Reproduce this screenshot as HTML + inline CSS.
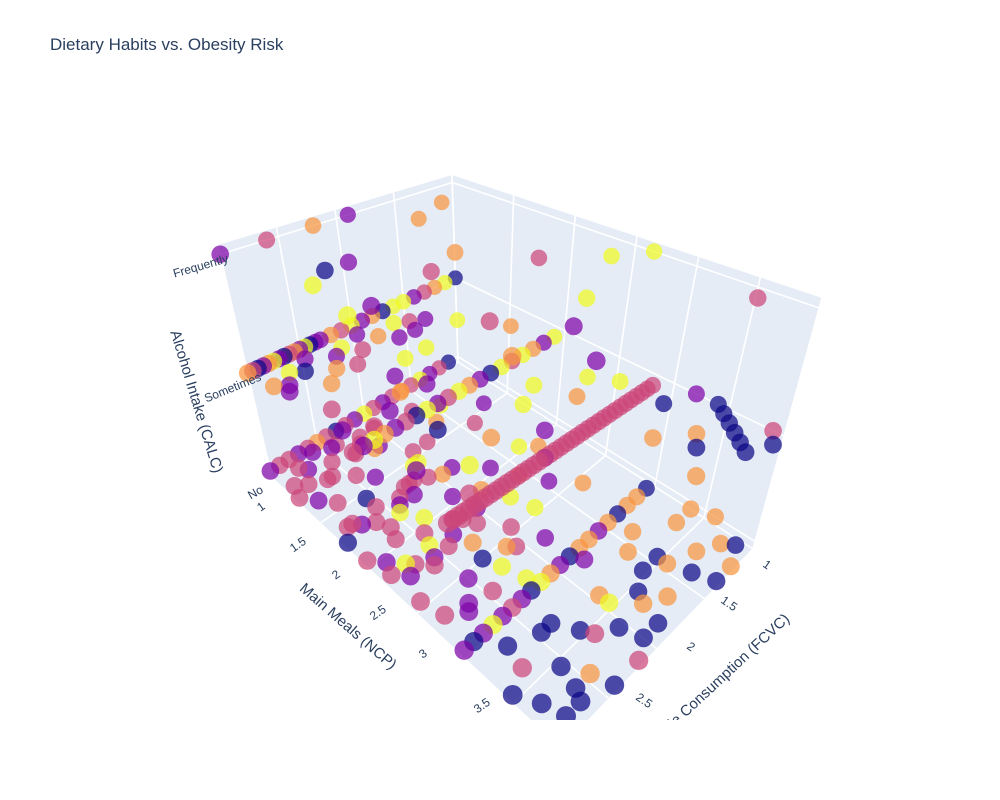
<!DOCTYPE html>
<html><head><meta charset="utf-8"><style>
html,body{margin:0;padding:0;background:#fff;}
svg{display:block;font-family:"Liberation Sans",Arial,sans-serif;}
</style></head><body>
<svg id="chart" width="1000" height="800" viewBox="0 0 1000 800">
<defs><clipPath id="sceneClip"><rect x="0" y="80" width="1000" height="640"/></clipPath></defs>
<text x="50" y="50" font-size="17" fill="#2a3f5f">Dietary Habits vs. Obesity Risk</text>
<g id="scene" clip-path="url(#sceneClip)"></g>
<g id="labels" fill="#2a3f5f" font-size="12">
<text transform="translate(229,262) rotate(-16)" text-anchor="end">Frequently</text>
<text transform="translate(262,380) rotate(-22)" text-anchor="end">Sometimes</text>
<text transform="translate(264,492) rotate(-30)" text-anchor="end">No</text>
<text transform="translate(266,508) rotate(-35)" text-anchor="end">1</text>
<text transform="translate(307,543) rotate(-35)" text-anchor="end">1.5</text>
<text transform="translate(341,576) rotate(-35)" text-anchor="end">2</text>
<text transform="translate(387,611) rotate(-35)" text-anchor="end">2.5</text>
<text transform="translate(428,655) rotate(-35)" text-anchor="end">3</text>
<text transform="translate(491,704) rotate(-35)" text-anchor="end">3.5</text>
<text transform="translate(762,566) rotate(35)">1</text>
<text transform="translate(720,602) rotate(35)">1.5</text>
<text transform="translate(686,648) rotate(35)">2</text>
<text transform="translate(635,699) rotate(35)">2.5</text>
</g>
<text transform="translate(192,403) rotate(73)" text-anchor="middle" font-size="15" fill="#2a3f5f">Alcohol Intake (CALC)</text>
<text transform="translate(345,630) rotate(41)" text-anchor="middle" font-size="15" fill="#2a3f5f">Main Meals (NCP)</text>
<g clip-path="url(#sceneClip)"><text transform="translate(712,693) rotate(-43)" text-anchor="middle" font-size="15" fill="#2a3f5f">Vegetable Consumption (FCVC)</text></g>
</svg>
<script>
// ---- data (CALC groups) ----
const fcvcFreq=[3,2.6,2.2,1.9,2.8,2.4,1.6,1.3,2.9,2.7,2.1,1.8,1.5,2.3,1.2,2.0,2.5,1.7,1.1,2.2,1.0,2.6];
const ncpFreq=[1,1,1,1,1.6,1.5,1.3,1.2,2,2,1.9,1.8,2.2,2.6,2.5,3,3,2.8,3.6,3.4,2.65,1.5];
const riskFreq=[1,2,3,1,4,1,3,3,4,1,2,3,2,2,4,1,3,4,2,1,4,0];

const fcvcSome=[3,2.95,2.9,2.85,2.8,2.75,2.7,2.65,2.6,2.55,2.5,2.45,2.4,2.3,2.2,2.1,2.0,1.9,1.8,1.7,1.6,1.5,1.4,1.3,1.2,1.1,1.0,2.35,
 2.9,2.6,2.3,2.0,1.7,1.4,2.8,2.2,1.8,1.2,
 3,2.9,2.8,2.7,2.6,2.5,2.4,2.3,2.2,2.1,2.0,1.9,1.8,1.7,1.6,1.5,1.4,1.3,1.2,1.1,
 2.8,2.5,2.2,1.9,1.6,1.3,2.7,2.1,1.5,2.4,1.8,1.2,
 1.1,1.15,1.2,1.25,1.3,1.35,1.4,1.45,1.5,1.55,1.6,1.65,1.7,1.75,1.8,1.85,1.9,1.95,2.0,2.05,2.1,2.15,2.2,2.25,2.3,2.35,2.4,2.45,2.5,2.55,2.6,2.65,2.7,2.75,2.8,2.85,2.9,2.95,3.0,
 1.0,1.05,1.1,1.15,1.2,1.0,1.1,1.3,1.25,1.4,1.5,1.6,1.0,1.2,
 2.95,2.85,2.75,2.65,2.55,2.45,2.35,2.25,2.15,2.05,1.95,1.85,1.75,1.65,1.55,2.9,2.7,2.5,2.3,2.1];
const ncpSome=[1,1,1,1,1,1,1,1,1,1,1,1,1,1,1,1,1,1,1,1,1,1,1,1,1,1,1,1,
 1.3,1.4,1.35,1.5,1.3,1.4,1.6,1.6,1.5,1.7,
 2,2,2,2,2,2,2,2,2,2,2,2,2,2,2,2,2,2,2,2,
 2.4,2.6,2.5,2.7,2.3,2.5,2.8,2.9,2.6,2.2,2.4,2.7,
 2.9,2.9,2.9,2.9,2.9,2.9,2.9,2.9,2.9,2.9,2.9,2.9,2.9,2.9,2.9,2.9,2.9,2.9,2.9,2.9,2.9,2.9,2.9,2.9,2.9,2.9,2.9,2.9,2.9,2.9,2.9,2.9,2.9,2.9,2.9,2.9,2.9,2.9,2.9,
 3.4,3.5,3.6,3.7,3.8,3.9,4.0,3.5,3.9,3.6,3.3,3.8,3.2,3.1,
 1.2,1.25,1.15,1.2,1.1,1.3,1.2,1.15,1.25,1.1,1.2,1.3,1.15,1.2,1.25,1.8,1.9,1.85,1.75,1.8];
const riskSome=[3,2,0,1,3,4,1,0,2,3,1,4,0,1,3,2,4,1,3,0,4,4,1,2,3,4,0,1,
 1,3,2,4,1,4,2,1,4,3,
 2,1,4,3,1,2,0,4,1,2,4,3,1,0,4,2,4,3,1,4,
 1,4,3,1,4,4,2,1,3,0,4,4,
 2,2,2,2,2,2,2,2,2,2,2,2,2,2,2,2,2,2,2,2,2,2,2,2,2,2,2,2,2,2,2,2,2,2,2,2,2,2,2,
 0,0,0,0,0,2,0,3,0,0,3,3,1,0,
 3,1,4,0,1,3,1,4,2,1,3,1,4,2,1,1,2,1,3,1];

const fcvcNo=[3,2.9,2.8,2.7,2.6,2.5,2.4,2.3,2.2,2.1,2.0,1.9,1.8,1.7,1.6,1.5,1.4,1.3,1.2,1.1,
 3,2.9,2.8,2.7,2.6,2.5,2.4,2.3,2.2,2.1,2.0,1.9,3,2.85,2.65,2.45,2.25,2.05,1.85,1.65,1.45,1.25,1.5,1.7,
 3,2.9,2.8,2.7,2.6,2.5,2.4,2.3,2.2,2.1,2.0,1.9,1.8,1.7,1.6,1.5,1.4,1.3,2.95,2.55,2.15,1.75,1.35,2.35,
 3,2.9,2.8,2.7,2.6,2.5,2.4,2.3,2.2,2.1,2.0,1.9,1.8,1.7,1.6,1.5,1.4,1.3,1.2,1.1,2.75,2.25,1.85,1.45,
 3,2.9,2.8,2.7,2.6,2.5,2.4,2.3,2.2,2.1,2.0,1.9,1.8,1.7,1.6,1.5,1.4,1.3,1.2,1.1,1.0,2.85,2.65,2.45,2.25,2.05,1.85,1.65,1.45,1.25,1.05,2.5,2.0,1.5,1.15,2.75,
 2.95,2.85,2.75,2.65,2.55,2.45,2.35,2.25,2.15,2.05,2.95,2.85,2.75,2.65,2.55,2.45,2.35,2.25,2.15,2.05,2.9,2.8,2.7,2.6,2.5,2.4,2.3,2.2,2.1,2.0,
 2.9,2.7,2.5,2.3,2.1,1.9,2.8,2.6,2.4,2.2];
const ncpNo=[1,1,1,1,1,1,1,1,1,1,1,1,1,1,1,1,1,1,1,1,
 1.3,1.4,1.5,1.3,1.6,1.4,1.5,1.7,1.3,1.6,1.5,1.8,1.8,1.7,1.9,1.8,1.7,1.6,1.5,1.4,1.6,1.5,1.3,1.2,
 2,2.1,2.2,2.0,2.3,2.1,2.0,2.4,2.2,2.0,2.5,2.1,2.3,2.0,2.2,2.4,2.0,2.1,2.5,2.6,2.6,2.5,2.6,2.55,
 3,3,3,3,3,3,3,3,3,3,3,3,3,3,3,3,3,3,3,3,2.8,2.9,3.1,3.2,
 3.5,3.7,3.4,3.9,3.6,3.8,3.3,3.5,4.0,3.7,3.4,3.9,3.6,3.8,3.3,3.5,4.0,3.7,3.4,3.9,3.6,3.9,3.8,4.0,3.6,3.9,3.7,3.5,3.8,4.0,3.4,3.3,3.5,3.6,3.8,3.2,
 1.2,1.25,1.15,1.3,1.2,1.1,1.25,1.2,1.3,1.15,2.2,2.3,2.25,2.35,2.2,2.3,2.25,2.15,2.3,2.2,1.7,1.75,1.8,1.7,1.85,1.75,1.8,1.7,1.75,1.8,
 2.7,2.75,2.8,2.7,2.65,2.75,1.1,1.05,1.1,1.15];
const riskNo=[1,2,2,1,2,3,2,0,2,1,4,2,1,2,3,2,4,1,2,0,
 2,1,2,2,0,2,1,2,3,4,2,1,0,2,2,1,2,4,2,3,2,1,4,2,
 2,1,4,2,1,2,4,3,2,1,2,3,4,1,3,1,4,3,2,1,3,4,3,0,
 1,0,1,4,1,2,1,0,4,3,1,0,3,3,1,3,0,3,3,0,1,4,1,3,
 0,0,2,0,0,3,0,0,2,0,3,0,0,3,3,0,0,3,3,0,3,0,0,0,2,0,3,0,0,3,3,0,4,3,3,0,
 2,2,1,2,2,1,2,2,1,2,2,1,2,2,4,2,1,2,2,1,2,1,2,2,4,2,1,2,2,3,
 2,1,2,4,2,1,2,1,2,2];

const calcLabels=['No','Sometimes','Frequently'];
const riskColors=['#0d0887','#7e03a8','#cc4778','#f89540','#f0f921'];

// ---- projection (scene layout) ----
const C={b00:[458,362],b10:[272,478],b01:[753,549],b11:[561,749],t00:[452,175],t10:[218,245],t01:[822,298],t11:[566,440]};
const wLevel=[0.03,0.45,0.96];
function lerp(a,b,t){return [a[0]+(b[0]-a[0])*t,a[1]+(b[1]-a[1])*t];}
function proj(u,v,w){
  const b=lerp(lerp(C.b00,C.b10,u),lerp(C.b01,C.b11,u),v);
  const t=lerp(lerp(C.t00,C.t10,u),lerp(C.t01,C.t11,u),v);
  return lerp(b,t,w);
}
function xU(fcvc){return (fcvc-1)/2;}
function yV(ncp){return (ncp-1)/3;}
function zW(calc){return wLevel[calc];}

const NS='http://www.w3.org/2000/svg';
const scene=document.getElementById('scene');
function poly(pts,name){
  const p=document.createElementNS(NS,'polygon');
  p.setAttribute('points',pts.map(q=>q.join(',')).join(' '));
  p.setAttribute('fill','#E5ECF6');
  
  
  scene.appendChild(p);
}
function line(a,b,name){
  const l=document.createElementNS(NS,'line');
  l.setAttribute('x1',a[0]);l.setAttribute('y1',a[1]);l.setAttribute('x2',b[0]);l.setAttribute('y2',b[1]);
  l.setAttribute('stroke','#fff');l.setAttribute('stroke-width','1.6');
  
  
  scene.appendChild(l);
}
poly([proj(0,0,0),proj(1,0,0),proj(1,1,0),proj(0,1,0)],'floor-plane');
poly([proj(0,0,0),proj(1,0,0),proj(1,0,1),proj(0,0,1)],'left-wall');
poly([proj(0,0,0),proj(0,1,0),proj(0,1,1),proj(0,0,1)],'right-wall');
const fTicks=[1,1.5,2,2.5,3], nTicks=[1,1.5,2,2.5,3,3.5,4];
fTicks.forEach(f=>{const u=xU(f);line(proj(u,0,0),proj(u,0,1),'grid-fcvc-wall');line(proj(u,0,0),proj(u,1,0),'grid-fcvc-floor');});
nTicks.forEach(n=>{const v=yV(n);line(proj(0,v,0),proj(0,v,1),'grid-ncp-wall');line(proj(0,v,0),proj(1,v,0),'grid-ncp-floor');});
[0,1,2].forEach(c=>{const w=zW(c);line(proj(0,0,w),proj(1,0,w),'grid-calc-left');line(proj(0,0,w),proj(0,1,w),'grid-calc-right');});

// ---- points ----
const pts=[];
function addGroup(fs,ns,rs,calc){
  const n=Math.min(fs.length,ns.length,rs.length);
  for(let i=0;i<n;i++)pts.push({u:xU(fs[i]),v:yV(ns[i]),w:zW(calc),r:rs[i]});
}
addGroup(fcvcFreq,ncpFreq,riskFreq,2);
addGroup(fcvcSome,ncpSome,riskSome,1);
addGroup(fcvcNo,ncpNo,riskNo,0);
pts.sort((a,b)=>(a.u+a.v+0.6*a.w)-(b.u+b.v+0.6*b.w));
pts.forEach(p=>{
  const s=proj(p.u,p.v,p.w);
  const c=document.createElementNS(NS,'circle');
  c.setAttribute('cx',s[0].toFixed(1));c.setAttribute('cy',s[1].toFixed(1));
  c.setAttribute('r',(7.5+1.3*(p.u+p.v)).toFixed(1));
  c.setAttribute('fill',riskColors[p.r]);c.setAttribute('fill-opacity','0.72');
  
  
  scene.appendChild(c);
});
</script>
</body></html>
